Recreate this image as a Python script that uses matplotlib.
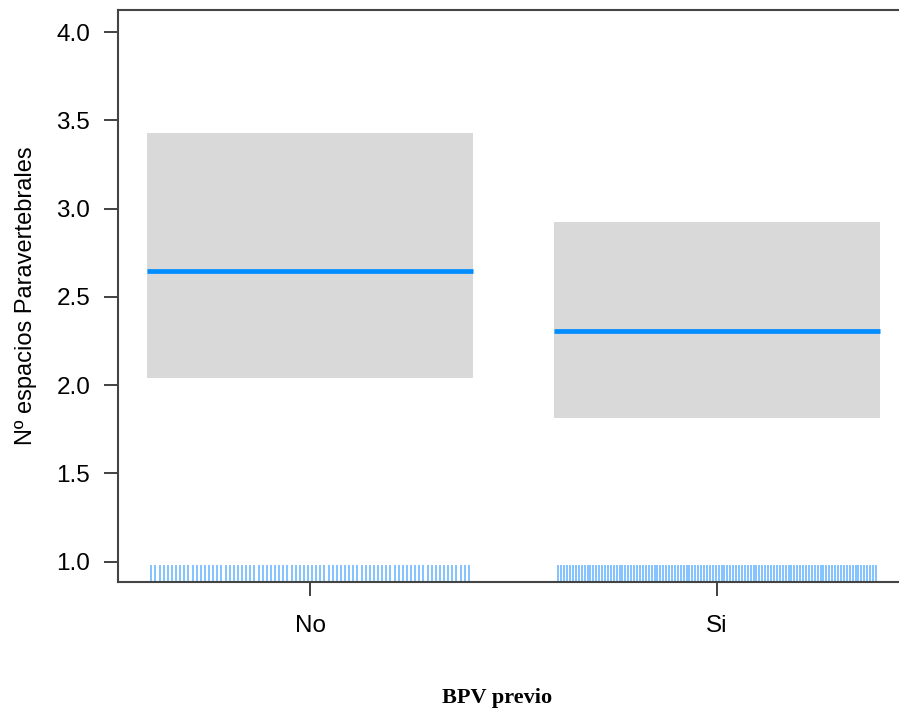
import matplotlib
matplotlib.use('Agg')
import matplotlib.pyplot as plt
import numpy as np

# BPV previo groups: fitted value and confidence band
groups = ['No', 'Si']
fit = [2.647, 2.308]
lower = [2.042, 1.815]
upper = [3.428, 2.925]
# number of observations per group (rug marks)
n_obs = [78, 110]

plt.rcParams['font.family'] = ['Liberation Sans', 'DejaVu Sans']

fig = plt.figure(figsize=(8.99, 7.13), dpi=100)
ax = fig.add_axes([0.1313, 0.1837, 0.880, 0.8023])

xpos = np.arange(len(groups))
half = 0.4
for i in range(len(groups)):
    x0, x1 = xpos[i] - half, xpos[i] + half
    ax.fill_between([x0, x1], lower[i], upper[i], color='#d9d9d9', lw=0, zorder=1)
    ax.plot([x0, x1], [fit[i], fit[i]], color='#008dff', lw=3.4, solid_capstyle='butt', zorder=3)
    rx = np.linspace(xpos[i] - 0.39, xpos[i] + 0.39, n_obs[i])
    ax.vlines(rx, 0.884, 0.983, color='#2f9bff', lw=1.4, alpha=0.6, zorder=2)

ax.set_xlim(-0.4717, 1.4717)
ax.set_ylim(0.884, 4.126)
ax.set_xticks(xpos)
ax.set_xticklabels(groups)
ax.set_yticks([1.0, 1.5, 2.0, 2.5, 3.0, 3.5, 4.0])
ax.set_yticklabels(['1.0', '1.5', '2.0', '2.5', '3.0', '3.5', '4.0'])
ax.tick_params(axis='both', length=10, width=1.3, color='#333333', labelsize=17.5, pad=10)
ax.tick_params(axis='x', pad=14)
for s in ['left', 'top', 'bottom', 'right']:
    ax.spines[s].set_color('#444444')
    ax.spines[s].set_linewidth(1.5)

ax.set_ylabel('Nº espacios Paravertebrales', fontsize=17, labelpad=14)
fig.text(0.553, 0.0215, 'BPV previo', ha='center', va='center', fontsize=16,
         fontweight='bold', family=['Liberation Serif', 'DejaVu Serif'])

fig.savefig('out.png', dpi=100)
